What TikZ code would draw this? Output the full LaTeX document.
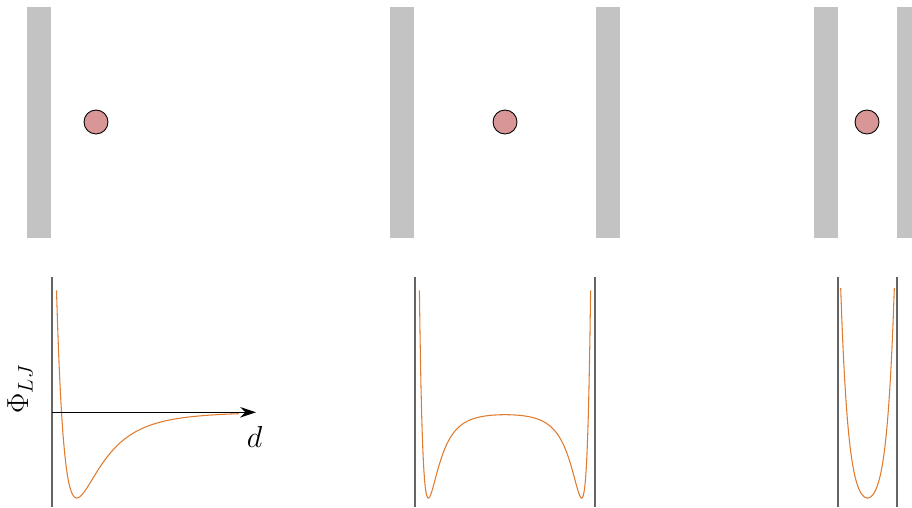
\documentclass[tikz,border=0pt]{standalone}
\usepackage{amsmath}
\usepackage{tikz}
\usetikzlibrary{arrows.meta}
\usepackage{xcolor}
\definecolor{wallgray}{RGB}{195,195,195}
\definecolor{atomred}{RGB}{217,150,150}
\definecolor{ljorange}{RGB}{224,122,44}
\definecolor{axisgray}{RGB}{100,100,100}

\begin{document}
\begin{tikzpicture}[x=0.02cm, y=-0.02cm,
  declare function={lj(\rr)=(1/\rr)^12-(1/\rr)^6;},
  wall/.style={fill=wallgray},
  atom/.style={circle, draw=black, fill=atomred, line width=0.5pt, minimum size=0.48cm, inner sep=0pt},
  ljcurve/.style={ljorange, line width=0.6pt},
  barrier/.style={axisgray, line width=1.1pt},
  axislabel/.style={font=\fontsize{17.5}{21}\selectfont}]
\useasboundingbox (0,0) rectangle (912,507);
% Walls
\def\wtop{7}
\def\wbot{238}
\def\ww{24}
\foreach \wx in {27, 390, 596, 814}
  \fill[wall] (\wx, \wtop) rectangle +(\ww, \wbot-\wtop);
\fill[wall] (897, \wtop) rectangle (912, \wbot);

% Atoms
\node[atom] (atomA) at (96, 122) {};
\node[atom] (atomB) at (505, 122) {};
\node[atom] (atomC) at (867, 122) {};

% Single wall potential
\draw[barrier] (51.7, 277) -- (51.7, 507);
\coordinate (originA) at (51.7, 412.3);
\coordinate (dEnd) at (256, 412.3);
\draw[ljcurve] plot[domain=0.96:2.42, samples=200] ({-63.5+125*\x}, {412-344*lj(\x)});
\draw[-{Stealth[length=9pt, width=6pt]}, line width=0.7pt] (originA) -- (dEnd);
\node[axislabel] (dLabel) at (254.7, 436.7) {$d$};
\node[axislabel, rotate=90] (phiLabel) at (20, 389) {$\Phi_{LJ}$};

% Two walls, wide gap
\draw[barrier] (414.7, 277) -- (414.7, 507);
\draw[barrier] (595.3, 277) -- (595.3, 507);
\draw[ljcurve] plot[domain=419.4:590.6, samples=300]
  (\x, {412-344*(lj((\x-366.6)/55)+lj((1010-\x-366.6)/55))});

% Two walls, narrow gap
\draw[barrier] (837.7, 277) -- (837.7, 507);
\draw[barrier] (897.3, 277) -- (897.3, 507);
\draw[ljcurve] plot[domain=840.7:894.3, samples=150]
  (\x, {498-210*(cosh(3.6*(\x-867.5)/26.8)-1)/(cosh(3.6)-1)});
\end{tikzpicture}
\end{document}
